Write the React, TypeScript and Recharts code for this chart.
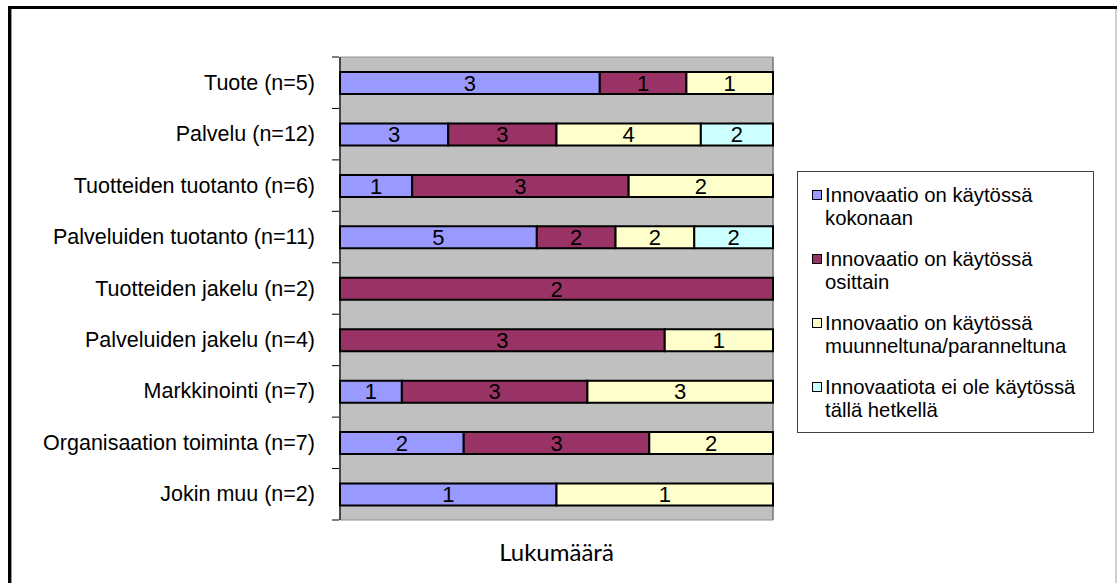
import React from "react";
import {
  BarChart, Bar, XAxis, YAxis, CartesianGrid, Legend, LabelList, ReferenceArea
} from "recharts";

// categories (top to bottom)
const categories = [
  "Tuote (n=5)",
  "Palvelu (n=12)",
  "Tuotteiden tuotanto (n=6)",
  "Palveluiden tuotanto (n=11)",
  "Tuotteiden jakelu (n=2)",
  "Palveluiden jakelu (n=4)",
  "Markkinointi (n=7)",
  "Organisaation toiminta  (n=7)",
  "Jokin muu  (n=2)",
];

// counts per answer
const kokonaan = [3, 3, 1, 5, 0, 0, 1, 2, 1];
const osittain = [1, 3, 3, 2, 2, 3, 3, 3, 0];
const muunneltuna = [1, 4, 2, 2, 0, 1, 3, 2, 1];
const eiKaytossa = [0, 2, 0, 2, 0, 0, 0, 0, 0];

const seriesNames = [
  "Innovaatio on käytössä\nkokonaan",
  "Innovaatio on käytössä\nosittain",
  "Innovaatio on käytössä\nmuunneltuna/paranneltuna",
  "Innovaatiota ei ole käytössä\ntällä hetkellä",
];

const data = categories.map((name, i) => ({
  name,
  kokonaan: kokonaan[i],
  osittain: osittain[i],
  muunneltuna: muunneltuna[i],
  eiKaytossa: eiKaytossa[i],
}));

const FONT = "'Liberation Sans', Arial, sans-serif";

function CategoryTick(props: any) {
  const { x, y, payload, index, visibleTicksCount } = props;
  const half = payload?.offset || 463 / 9 / 2;
  const last = index === (visibleTicksCount ?? categories.length) - 1;
  return (
    <g>
      <line x1={x} x2={x + 7} y1={y - half} y2={y - half} stroke="#000" />
      {last && <line x1={x} x2={x + 7} y1={y + half} y2={y + half} stroke="#000" />}
      <text x={x - 17} y={y} dy={7} textAnchor="end" fill="#000" fontSize={21.5} fontFamily={FONT}>
        {payload.value}
      </text>
    </g>
  );
}

function LegendBox({ payload }: any) {
  const items = [...(payload || [])].sort(
    (a: any, b: any) => seriesNames.indexOf(a.value) - seriesNames.indexOf(b.value)
  );
  return (
    <div style={{
      border: "1px solid #404040", background: "#fff", padding: "12px 0 10px 14px",
      width: 281, boxSizing: "content-box", fontFamily: FONT, fontSize: 20.3, color: "#000",
    }}>
      {items.map((p: any, i: number) => (
        <div key={i} style={{ display: "flex", alignItems: "flex-start", marginTop: i ? 18 : 0 }}>
          <span style={{
            width: 8, height: 8, background: p.color, border: "1.5px solid #000",
            marginTop: 6, marginRight: 3, flexShrink: 0,
          }} />
          <span style={{ whiteSpace: "pre-line", lineHeight: "23px" }}>{p.value}</span>
        </div>
      ))}
    </div>
  );
}

const hideZero = (v: any) => (v ? v : "");

export default function App() {
  return (
    <div style={{ position: "absolute", left: 0, top: 0, width: 1117, height: 583, background: "#fff" }}>
      <BarChart
        width={1117}
        height={583}
        data={data}
        layout="vertical"
        stackOffset="expand"
        barSize={22}
        margin={{ top: 57, right: 344, bottom: 33, left: 0 }}
      >
        <CartesianGrid fill="#C0C0C0" horizontal={false} stroke="#404040" />
        <XAxis
          type="number"
          domain={[0, 1]}
          ticks={[0.5]}
          tick={false}
          tickLine={false}
          axisLine={false}
          height={30}
          label={{ value: "Lukumäärä", position: "insideTop", offset: 24, fontSize: 24, fill: "#000", fontFamily: "Lato, 'Open Sans', sans-serif" }}
        />
        <YAxis
          type="category"
          dataKey="name"
          width={340}
          axisLine={{ stroke: "#000" }}
          tickLine={false}
          tick={<CategoryTick />}
          interval={0}
        />
        <ReferenceArea x1={0} x2={1} fill="none" stroke="#909090" ifOverflow="visible" />
        <Legend
          layout="horizontal"
          verticalAlign="middle"
          content={<LegendBox />}
          wrapperStyle={{ left: 797, top: 171, width: 298 }}
        />
        <Bar dataKey="kokonaan" name={seriesNames[0]} stackId="a" fill="#9999FF" stroke="#000" strokeWidth={2} isAnimationActive={false}>
          <LabelList dataKey="kokonaan" position="center" formatter={hideZero} fill="#000" fontSize={22} fontFamily={FONT} />
        </Bar>
        <Bar dataKey="osittain" name={seriesNames[1]} stackId="a" fill="#993366" stroke="#000" strokeWidth={2} isAnimationActive={false}>
          <LabelList dataKey="osittain" position="center" formatter={hideZero} fill="#000" fontSize={22} fontFamily={FONT} />
        </Bar>
        <Bar dataKey="muunneltuna" name={seriesNames[2]} stackId="a" fill="#FFFFCC" stroke="#000" strokeWidth={2} isAnimationActive={false}>
          <LabelList dataKey="muunneltuna" position="center" formatter={hideZero} fill="#000" fontSize={22} fontFamily={FONT} />
        </Bar>
        <Bar dataKey="eiKaytossa" name={seriesNames[3]} stackId="a" fill="#CCFFFF" stroke="#000" strokeWidth={2} isAnimationActive={false}>
          <LabelList dataKey="eiKaytossa" position="center" formatter={hideZero} fill="#000" fontSize={22} fontFamily={FONT} />
        </Bar>
      </BarChart>
      {/* outer frame of the picture */}
      <div style={{ position: "absolute", left: 8, top: 6, width: 1109, height: 3, background: "#000" }} />
      <div style={{ position: "absolute", left: 8, top: 6, width: 3, height: 577, background: "#000" }} />
      <div style={{ position: "absolute", left: 11, top: 9, width: 1, height: 574, background: "#999" }} />
      <div style={{ position: "absolute", left: 1115, top: 9, width: 2, height: 574, background: "#d0d0d0" }} />
    </div>
  );
}
